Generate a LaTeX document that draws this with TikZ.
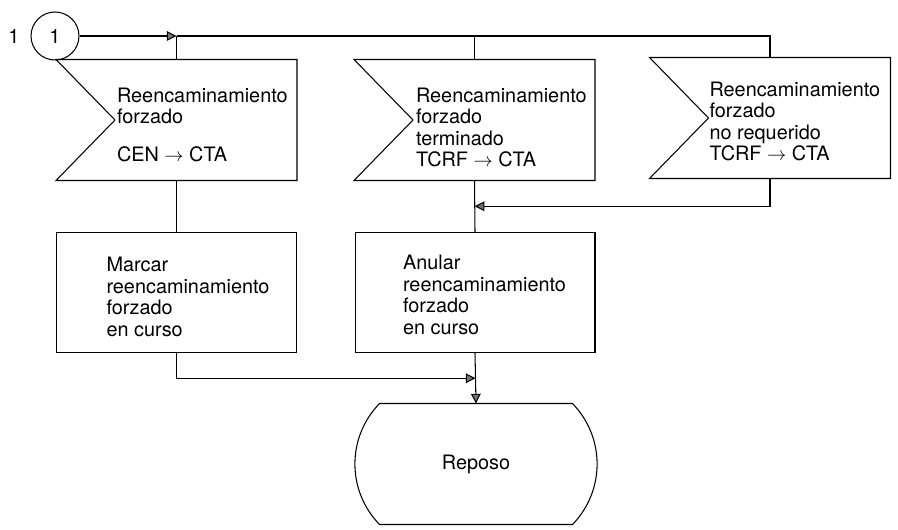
\documentclass[tikz,border=0pt]{standalone}
\usepackage{fontspec}
\setmainfont{TeX Gyre Heros}
\usetikzlibrary{arrows.meta,positioning,calc}

\tikzset{
  sigbox/.style={rectangle, minimum width=4.8cm, minimum height=2.4cm, inner sep=0pt},
  procbox/.style={draw, rectangle, minimum width=4.8cm, minimum height=2.4cm, inner sep=0pt},
  txt/.style={anchor=north west, inner sep=0pt, align=left},
  flow/.style={-{Triangle[length=5.5pt,width=5.5pt,fill=black!55]}},
}

\begin{document}
\begin{tikzpicture}[x=0.02cm, y=-0.02cm, line width=0.6pt,
                    font=\fontsize{11.3}{12.2}\selectfont]
\useasboundingbox (0,0) rectangle (898,530);

% connector
\node[draw, circle, minimum size=0.96cm, inner sep=0pt,
      label={[label distance=0.21cm, inner sep=0pt]left:1}] (c1) at (55,36) {1};

% input signals
\node[sigbox] (s1) at (176.5,120) {};
\node[sigbox] (s2) at (474.5,120) {};
\node[sigbox] (s3) at (770,118) {};
\foreach \n in {s1,s2,s3}
  \draw (\n.north west) -- (\n.north east) -- (\n.south east)
        -- (\n.south west) -- ([xshift=1.18cm]\n.west) -- cycle;

\node[txt] (t1) at ($(s1.north west)+(60.5,28)$)
  {Reencaminamiento\\forzado\\[9pt]CEN $\rightarrow$ CTA};
\node[txt] (t2) at ($(s2.north west)+(61.5,28)$)
  {Reencaminamiento\\forzado\\terminado\\TCRF $\rightarrow$ CTA};
\node[txt] (t3) at ($(s3.north west)+(59.5,24)$)
  {Reencaminamiento\\forzado\\no requerido\\TCRF $\rightarrow$ CTA};

% tasks
\node[procbox] (b1) at (176.5,292.5) {};
\node[procbox] (b2) at (475,292.5) {};
\node[txt] (t4) at ($(b1.north west)+(50,25)$)
  {Marcar\\reencaminamiento\\forzado\\en curso};
\node[txt] (t5) at ($(b2.north west)+(48,23)$)
  {Anular\\reencaminamiento\\forzado\\en curso};

% state
\node[sigbox, minimum width=3.84cm] (r) at (476,464) {Reposo};
\draw (r.north west) -- (r.north east) to[bend left=44] (r.south east)
      -- (r.south west) to[bend left=44] (r.north west);

% flow lines
\coordinate (j1) at (s1.north |- c1.east);
\draw[flow] (c1.east) -- (j1);
\draw (j1) -- (s1.north);
\draw (j1) -| (s3.north);
\draw (s2.north |- j1) -- (s2.north);
\draw (s1.south) -- (b1.north);
\draw (s2.south) -- (b2.north);
\coordinate (m2) at ($(s2.south)!0.5!(b2.north)$);
\draw[flow] (s3.south) |- (m2);
\coordinate (m1) at ($(b2.south)!0.5!(r.north)$);
\draw[flow] (b1.south) |- (m1);
\draw[flow] (b2.south) -- (r.north);
\end{tikzpicture}
\end{document}
